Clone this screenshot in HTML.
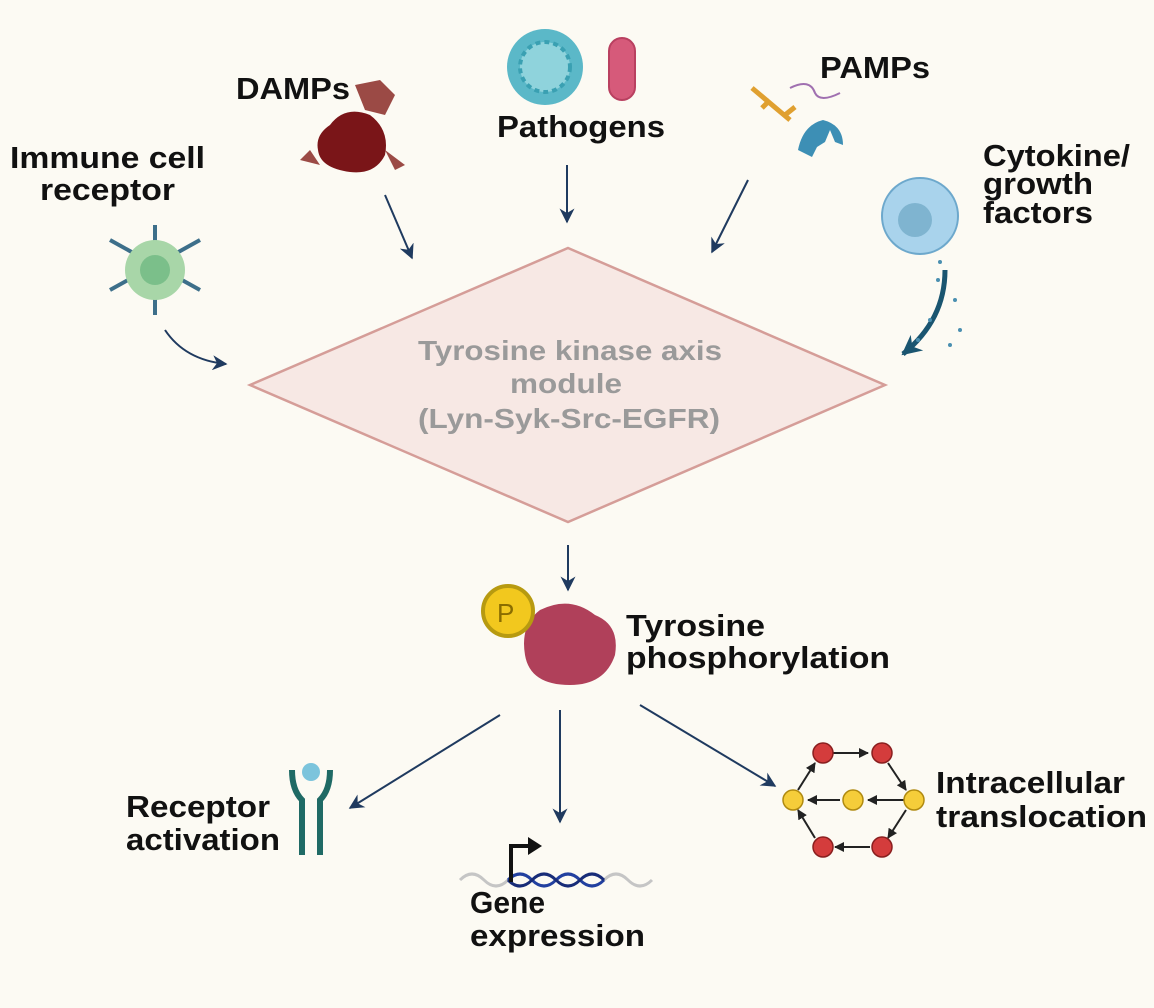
<!DOCTYPE html>
<html><head><meta charset="utf-8"><style>
html,body{margin:0;padding:0;background:#fcfaf3;}
svg{display:block}
text{font-family:"Liberation Sans",Arial,sans-serif;font-weight:bold;fill:#111;}
</style></head><body>
<svg width="1154" height="1008" viewBox="0 0 1154 1008" xmlns="http://www.w3.org/2000/svg">
<defs>
<marker id="ah" viewBox="0 0 10 10" refX="9" refY="5" markerWidth="15" markerHeight="15" markerUnits="userSpaceOnUse" orient="auto"><path d="M0,0 L10,5 L0,10 L3,5 z" fill="#1f3a5f"/></marker>
<marker id="ah2" viewBox="0 0 10 10" refX="9" refY="5" markerWidth="4" markerHeight="4" orient="auto"><path d="M0,0 L10,5 L0,10 L3,5 z" fill="#1a5570"/></marker>
<marker id="sm" viewBox="0 0 10 10" refX="9" refY="5" markerWidth="5" markerHeight="5" orient="auto"><path d="M0,0 L10,5 L0,10 z" fill="#222"/></marker>
</defs>
<rect width="1154" height="1008" fill="#fcfaf3"/>
<polygon points="568,248 885,385 568,522 250,385" fill="#f7e8e4" stroke="#d59d98" stroke-width="2.5"/>
<g font-size="28">
<text x="418" y="360" textLength="304" lengthAdjust="spacingAndGlyphs" style="fill:#9a9a9a">Tyrosine kinase axis</text>
<text x="510" y="393" textLength="112" lengthAdjust="spacingAndGlyphs" style="fill:#9a9a9a">module</text>
<text x="418" y="428" textLength="302" lengthAdjust="spacingAndGlyphs" style="fill:#9a9a9a">(Lyn-Syk-Src-EGFR)</text>
</g>
<g font-size="31">
<text x="10" y="168" textLength="195" lengthAdjust="spacingAndGlyphs">Immune cell</text>
<text x="40" y="200" textLength="135" lengthAdjust="spacingAndGlyphs">receptor</text>
<text x="236" y="99" textLength="114" lengthAdjust="spacingAndGlyphs">DAMPs</text>
<text x="497" y="137" textLength="168" lengthAdjust="spacingAndGlyphs">Pathogens</text>
<text x="820" y="78" textLength="110" lengthAdjust="spacingAndGlyphs">PAMPs</text>
<text x="983" y="166" textLength="147" lengthAdjust="spacingAndGlyphs">Cytokine/</text>
<text x="983" y="194" textLength="110" lengthAdjust="spacingAndGlyphs">growth</text>
<text x="983" y="223" textLength="110" lengthAdjust="spacingAndGlyphs">factors</text>
<text x="626" y="636" textLength="139" lengthAdjust="spacingAndGlyphs">Tyrosine</text>
<text x="626" y="668" textLength="264" lengthAdjust="spacingAndGlyphs">phosphorylation</text>
<text x="126" y="817" textLength="144" lengthAdjust="spacingAndGlyphs">Receptor</text>
<text x="126" y="850" textLength="154" lengthAdjust="spacingAndGlyphs">activation</text>
<text x="470" y="913" textLength="75" lengthAdjust="spacingAndGlyphs">Gene</text>
<text x="470" y="946" textLength="175" lengthAdjust="spacingAndGlyphs">expression</text>
<text x="936" y="793" textLength="189" lengthAdjust="spacingAndGlyphs">Intracellular</text>
<text x="936" y="827" textLength="211" lengthAdjust="spacingAndGlyphs">translocation</text>
</g>
<g stroke="#1f3a5f" stroke-width="2" fill="none" marker-end="url(#ah)">
<line x1="385" y1="195" x2="412" y2="258"/>
<line x1="567" y1="165" x2="567" y2="222"/>
<line x1="748" y1="180" x2="712" y2="252"/>
<path d="M165,330 Q185,360 226,364"/>
<line x1="568" y1="545" x2="568" y2="590"/>
<line x1="500" y1="715" x2="350" y2="808"/>
<line x1="560" y1="710" x2="560" y2="822"/>
<line x1="640" y1="705" x2="775" y2="786"/>
</g>
<path d="M945,270 Q945,320 903,354" stroke="#1a5570" stroke-width="5" fill="none" marker-end="url(#ah2)"/>
<g fill="#4a8fb0"><circle cx="938" cy="280" r="2"/><circle cx="955" cy="300" r="2"/><circle cx="930" cy="320" r="2"/><circle cx="960" cy="330" r="2"/><circle cx="918" cy="340" r="2"/><circle cx="950" cy="345" r="2"/><circle cx="940" cy="262" r="2"/></g>
<g stroke="#3d6f8a" stroke-width="4">
<line x1="155" y1="225" x2="155" y2="315"/><line x1="110" y1="240" x2="200" y2="290"/><line x1="110" y1="290" x2="200" y2="240"/>
</g>
<circle cx="155" cy="270" r="30" fill="#a8d6a8"/><circle cx="155" cy="270" r="15" fill="#7bbf8a"/>
<path d="M330,125 Q345,105 370,115 Q390,130 385,155 Q375,175 350,172 Q320,168 318,150 Q315,135 330,125z" fill="#7a1518"/>
<path d="M355,85 l25,-5 l15,15 l-10,20 l-20,-5z M310,150 l-10,10 l20,5z M385,150 l20,15 l-10,5z" fill="#9b4a45"/>
<circle cx="545" cy="67" r="38" fill="#5bb8c8"/><circle cx="545" cy="67" r="25" fill="#8fd3dc" stroke="#3aa0b2" stroke-width="4" stroke-dasharray="5 4"/>
<rect x="609" y="38" width="26" height="62" rx="13" fill="#d65a7a" stroke="#b94060" stroke-width="2"/>
<path d="M752,88 L790,120 M785,115 l10,-8 M770,100 l-8,8" stroke="#e0a030" stroke-width="5"/>
<path d="M790,88 q20,-10 25,5 q5,10 25,0" stroke="#a070b0" stroke-width="2" fill="none"/>
<path d="M798,150 q5,-25 25,-30 q20,5 20,25 l-8,-3 l-5,-12 l-5,12 l-8,5 l-5,10z" fill="#3d8fb5"/>
<circle cx="920" cy="216" r="38" fill="#a9d3ec" stroke="#6da8cc" stroke-width="2"/><circle cx="915" cy="220" r="17" fill="#7fb4d0"/>
<path d="M540,610 q30,-15 55,5 q25,10 20,40 q-10,30 -45,30 q-40,0 -45,-30 q-5,-30 15,-45z" fill="#b0405a"/>
<circle cx="508" cy="611" r="25" fill="#f2c81e" stroke="#b79a10" stroke-width="4"/>
<text x="497" y="622" font-size="26" style="fill:#8a6d00;font-weight:normal">P</text>
<path d="M292,770 q0,20 10,30 l0,55 M330,770 q0,20 -10,30 l0,55" stroke="#1f6a65" stroke-width="6" fill="none"/>
<circle cx="311" cy="772" r="9" fill="#7cc4dc"/>
<path d="M460,880 q12,-12 24,0 t24,0 t24,0 t24,0 t24,0 t24,0 t24,0 t24,0" stroke="#c5c5c5" stroke-width="3" fill="none"/>
<path d="M508,880 q12,-12 24,0 t24,0 t24,0 t24,0" stroke="#2240a0" stroke-width="3" fill="none"/>
<path d="M508,880 q12,12 24,0 t24,0 t24,0 t24,0" stroke="#182c78" stroke-width="3" fill="none"/>
<path d="M511,882 L511,846 L530,846" stroke="#111" stroke-width="4" fill="none"/>
<path d="M528,837 L542,846 L528,855z" fill="#111"/>
<g stroke="#222" stroke-width="2" fill="none" marker-end="url(#sm)">
<line x1="833" y1="753" x2="868" y2="753"/><line x1="888" y1="763" x2="906" y2="790"/>
<line x1="906" y1="810" x2="888" y2="838"/><line x1="870" y1="847" x2="835" y2="847"/>
<line x1="815" y1="838" x2="798" y2="810"/><line x1="798" y1="790" x2="815" y2="763"/>
<line x1="905" y1="800" x2="868" y2="800"/><line x1="840" y1="800" x2="808" y2="800"/>
</g>
<g stroke="#8a1f1f" stroke-width="1.5" fill="#d43c3c">
<circle cx="823" cy="753" r="10"/><circle cx="882" cy="753" r="10"/><circle cx="823" cy="847" r="10"/><circle cx="882" cy="847" r="10"/>
</g>
<g stroke="#b08a10" stroke-width="1.5" fill="#f5cd3a">
<circle cx="793" cy="800" r="10"/><circle cx="853" cy="800" r="10"/><circle cx="914" cy="800" r="10"/>
</g>
</svg>
</body></html>
